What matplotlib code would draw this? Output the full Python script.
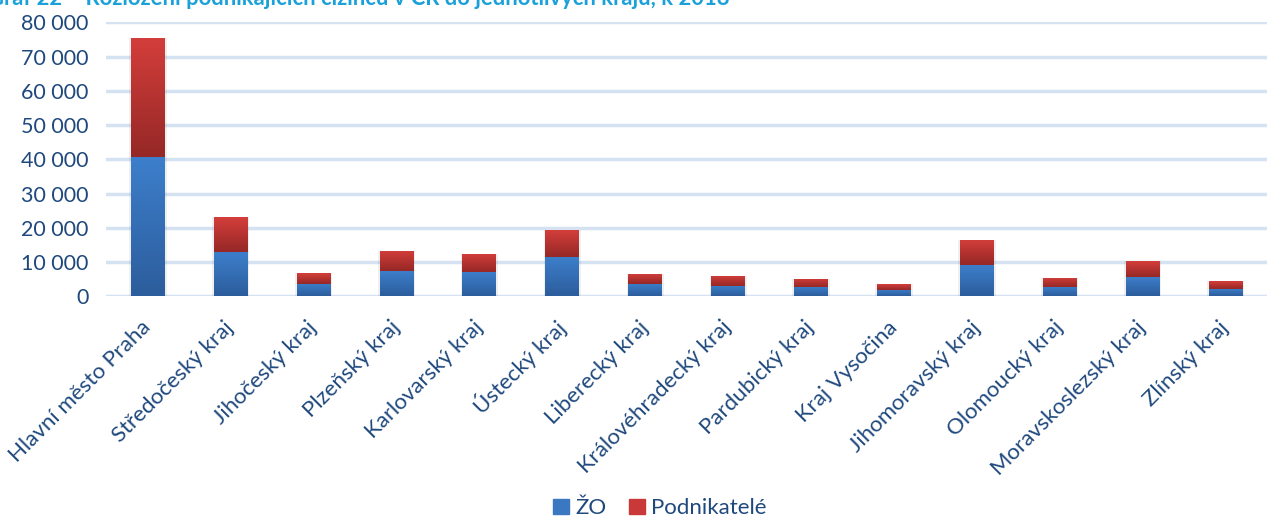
import matplotlib.pyplot as plt
import numpy as np
from matplotlib.colors import LinearSegmentedColormap
from matplotlib.patches import Patch

kraje = ['Hlavní město Praha', 'Středočeský kraj', 'Jihočeský kraj', 'Plzeňský kraj',
         'Karlovarský kraj', 'Ústecký kraj', 'Liberecký kraj', 'Královéhradecký kraj',
         'Pardubický kraj', 'Kraj Vysočina', 'Jihomoravský kraj', 'Olomoucký kraj',
         'Moravskoslezský kraj', 'Zlínský kraj']
zo = [40700, 13000, 3650, 7440, 7200, 11590, 3700, 3120, 2830, 1950, 9250, 2830, 5750, 2250]
celkem = [75450, 23200, 6860, 13280, 12460, 19470, 6620, 6040, 5170, 3700, 16550, 5460, 10420, 4580]
podnikatele = [c - z for c, z in zip(celkem, zo)]

txt = '#1F497D'
plt.rcParams['font.family'] = ['Lato', 'DejaVu Sans']

fig = plt.figure(figsize=(12.67, 5.16), dpi=100)
ax = fig.add_axes([0.084, 0.4254, 0.916, 0.5310])

x = np.arange(len(kraje))
w = 0.41
blue_cm = LinearSegmentedColormap.from_list('b', ['#2C5D9C', '#3D7FCC'])
red_cm = LinearSegmentedColormap.from_list('r', ['#952826', '#D43E3B'])

b1 = ax.bar(x, zo, w, color='#3A78C2', zorder=3)
b2 = ax.bar(x, podnikatele, w, bottom=zo, color='#C9393A', zorder=3)

grad = np.linspace(0, 1, 256).reshape(-1, 1)
for bars, cm in ((b1, blue_cm), (b2, red_cm)):
    for p in bars:
        x0, y0 = p.get_x(), p.get_y()
        im = ax.imshow(grad, cmap=cm, aspect='auto', origin='lower',
                       extent=(x0, x0 + p.get_width(), y0, y0 + p.get_height()), zorder=4)
        im.set_clip_path(p)
        # soft shadow
        ax.bar(x0 + p.get_width() / 2, p.get_height(), p.get_width() + 0.04, bottom=y0,
               color='#000000', alpha=0.06, zorder=2)

ax.set_xlim(-0.5, len(kraje) - 0.5)
ax.set_ylim(0, 80000)
ax.set_yticks(range(0, 80001, 10000))
ax.set_yticklabels(['0' if v == 0 else f'{v // 1000} 000' for v in range(0, 80001, 10000)])
ax.set_xticks(x)
ax.set_xticklabels(kraje, rotation=45, ha='right', va='center', rotation_mode='anchor')
ax.tick_params(length=0, colors=txt)
ax.tick_params(axis='x', labelsize=16, pad=20)
ax.tick_params(axis='y', labelsize=15.5, pad=13)
ax.grid(axis='y', color='#D5E2F2', linewidth=2.5, zorder=0)
for s in ax.spines.values():
    s.set_visible(False)

fig.text(-12 / 1267, 1 - 5 / 516,
         'Graf 22 – Rozložení podnikajících cizinců v ČR do jednotlivých krajů, k 2018',
         color='#1BA1DA', fontsize=15.8, fontweight='bold', ha='left', va='baseline')

handles = [Patch(color='#3A78C2', label='ŽO'), Patch(color='#C9393A', label='Podnikatelé')]
fig.legend(handles=handles, loc='center', bbox_to_anchor=(0.521, 0.015), ncol=2, frameon=False,
           fontsize=16, labelcolor=txt, handlelength=0.7, handleheight=0.7, handletextpad=0.3,
           columnspacing=1.0)

fig.savefig('out.png', dpi=100)
